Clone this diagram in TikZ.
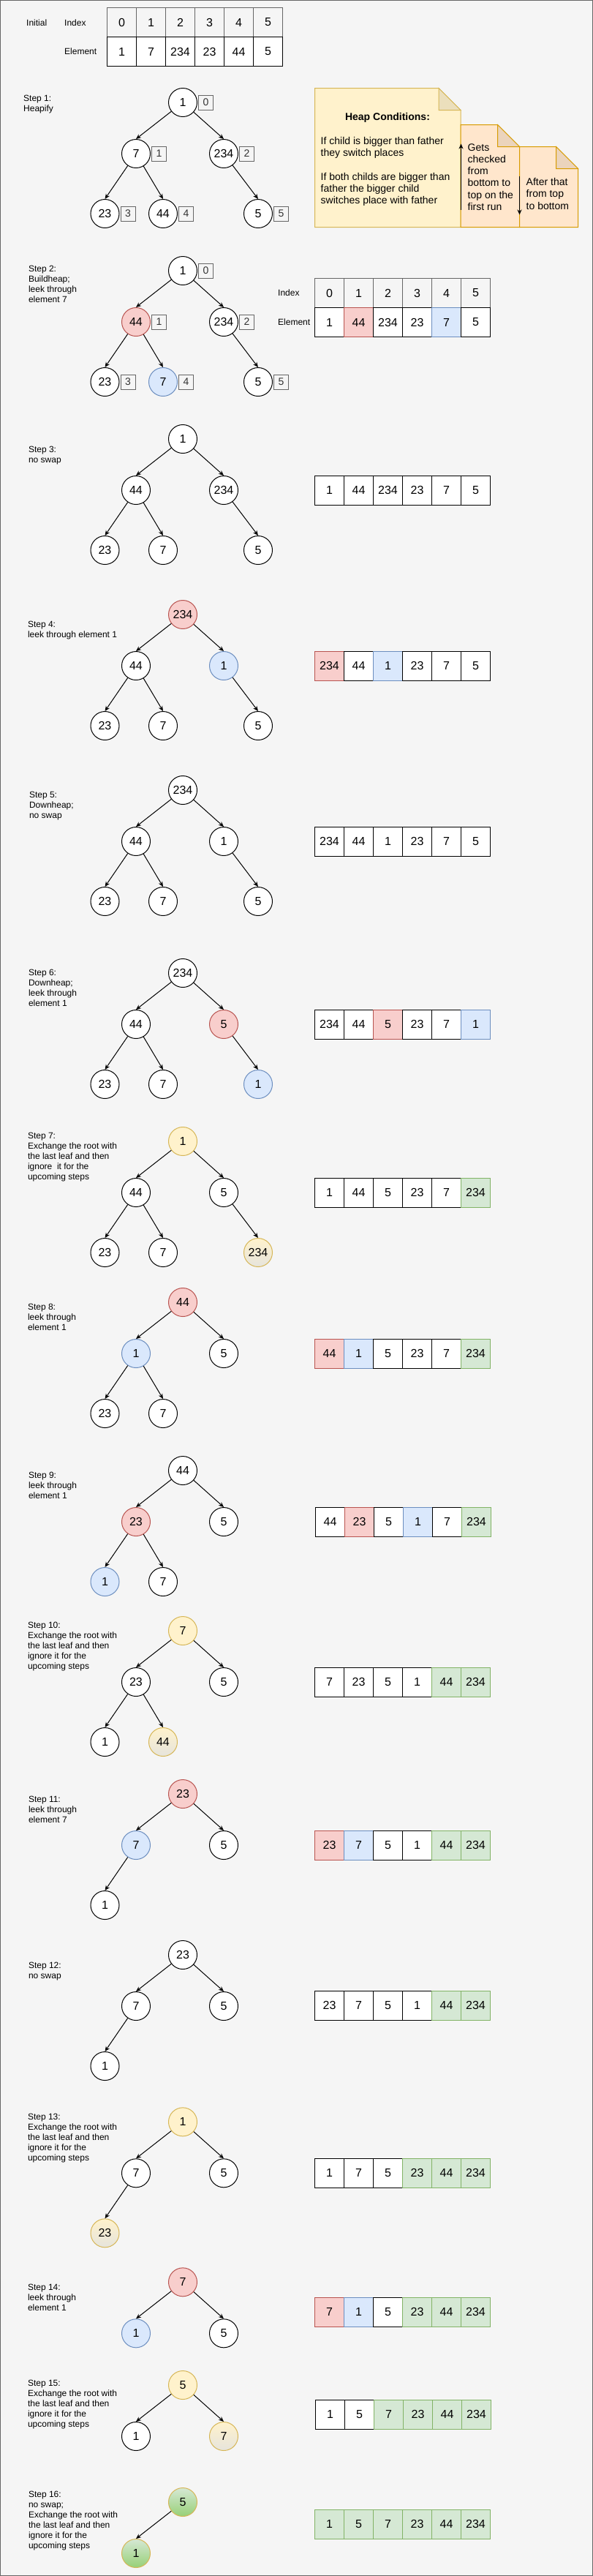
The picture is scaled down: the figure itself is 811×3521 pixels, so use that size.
\documentclass[tikz,border=0pt]{standalone}
\usepackage{fontspec}
\setmainfont{Liberation Sans}
\usepackage{tikz}
\usetikzlibrary{positioning,arrows.meta}
\definecolor{bgc}{HTML}{F5F5F5}
\definecolor{framec}{HTML}{666666}
\definecolor{redf}{HTML}{F8CECC}
\definecolor{reds}{HTML}{B85450}
\definecolor{bluef}{HTML}{DAE8FC}
\definecolor{blues}{HTML}{6C8EBF}
\definecolor{yellf}{HTML}{FFF2CC}
\definecolor{yells}{HTML}{D6B656}
\definecolor{greenf}{HTML}{D5E8D4}
\definecolor{greens}{HTML}{82B366}
\definecolor{greend}{HTML}{97D077}
\definecolor{swapb}{HTML}{E6E4DC}
\definecolor{orangef}{HTML}{FFE6CC}
\definecolor{oranges}{HTML}{D79B00}
\tikzset{
  hnode/.style={circle,draw,fill=white,line width=1pt,minimum size=39pt,inner sep=0pt,font=\fontsize{16}{19}\selectfont},
  cell/.style={draw,fill=white,line width=1pt,minimum size=40pt,inner sep=0pt,font=\fontsize{16}{19}\selectfont},
  ibox/.style={draw=framec,line width=1pt,minimum size=20pt,inner sep=0pt,text=black!80,font=\fontsize{14}{16}\selectfont},
  keep/.style={},
  idx/.style={fill=bgc,draw=framec},
  hot/.style={fill=redf,draw=reds},
  leak/.style={fill=bluef,draw=blues},
  newroot/.style={fill=yellf,draw=yells},
  moved/.style={draw=yells,top color=yellf,bottom color=swapb},
  fixed/.style={draw=yells,top color=greenf,bottom color=greend},
  sorted/.style={fill=greenf,draw=greens},
  hlink/.style={-{Stealth[length=7pt,width=6pt]},line width=1pt},
  lbl/.style={anchor=west,inner sep=0pt,font=\fontsize{12}{14}\selectfont},
  steplbl/.style={anchor=north west,align=left,inner sep=0pt,font=\fontsize{12}{14}\selectfont},
  notetxt/.style={anchor=north west,align=left,inner sep=0pt,font=\fontsize{14}{16.2}\selectfont},
  pr/.style={at={(250,0)}}, pa/.style={at={(186,70)}}, pb/.style={at={(306,70)}},
  pc/.style={at={(143.5,152)}}, pd/.style={at={(223,152)}}, pe/.style={at={(353,152)}}
}
\newcommand{\heap}[4]{%
  \begin{scope}[shift={(0,#2)}]
    \foreach \p/\val/\sty in {#3} \node[hnode,p\p,\sty] (#1\p) {\val};
    \foreach \u/\w in {#4} \draw[hlink] (#1\u) -- (#1\w.north);
  \end{scope}
}
\newcommand{\cellrow}[4]{%
  \foreach \val/\sty [count=\i from 0] in {#4}
    \node[cell,\sty] (#1-\i) at ({#2+20+40*\i},#3) {\val};
}
\newcommand{\steptext}[4]{\node[steplbl] (#1) at (#2,{#3-4.5}) {#4};}
\newcommand{\notebox}[6]{%
  \filldraw[fill=#5,draw=#6,line width=1pt] (#1,#2) -- ({#3-30},#2) -- (#3,{#2+30}) -- (#3,#4) -- (#1,#4) -- cycle;
  \filldraw[fill=#5!92!black,draw=#6,line width=1pt] ({#3-30},#2) -- ({#3-30},{#2+30}) -- (#3,{#2+30}) -- cycle;
}

\begin{document}
\begin{tikzpicture}[x=1pt,y=-1pt]
  \useasboundingbox (0,0) rectangle (811,3521);
  \filldraw[fill=bgc,draw=framec,line width=1pt] (0.5,0.5) rectangle (810.5,3520.5);
  % initial array
  \node[lbl] (initlbl) at (36,31) {Initial};
  \node[lbl] (idxlbl) at (88,31) {Index};
  \node[lbl] (ellbl) at (88,70.5) {Element};
  \cellrow{t0i}{146.5}{30.5}{0/idx,1/idx,2/idx,3/idx,4/idx,5/idx}
  \cellrow{t0e}{146.5}{70.5}{1/keep,7/keep,234/keep,23/keep,44/keep,5/keep}
  % step 1
  \steptext{s1t}{32}{134}{Step 1:\\Heapify}
  \heap{s1}{140}{r/1/keep,a/7/keep,b/234/keep,c/23/keep,d/44/keep,e/5/keep}{r/a,r/b,a/c,a/d,b/e}
  \foreach \p/\k in {r/0,a/1,b/2,c/3,d/4,e/5} \node[ibox,right=1pt of s1\p] (s1\p-i) {\k};
  % heap conditions notes
  \notebox{430.5}{120.5}{630}{310.5}{yellf}{yells}
  \notebox{630}{170.5}{710.5}{310.5}{orangef}{oranges}
  \notebox{710.5}{200.5}{790.5}{310.5}{orangef}{oranges}
  \node[font=\fontsize{14}{16}\selectfont\bfseries] (heapcond) at (530,160.7) {Heap Conditions:};
  \node[notetxt] (rules) at (438.5,187.3) {If child is bigger than father\\they switch places\\[16pt]If both childs are bigger than\\father the bigger child\\switches place with father};
  \node[notetxt] (upnote) at (639.5,196.3) {Gets\\checked\\from\\bottom to\\top on the\\first run};
  \node[notetxt] (downnote) at (719.5,243.3) {After that\\from top\\to bottom};
  \coordinate (upfrom) at (630.5,286.5);
  \coordinate (upto) at (630.5,196.5);
  \coordinate (downfrom) at (710.5,240.5);
  \coordinate (downto) at (710.5,293.5);
  \draw[hlink] (upfrom) -- (upto);
  \draw[hlink] (downfrom) -- (downto);
  % step 2
  \steptext{s2t}{38.8}{367.7}{Step 2:\\Buildheap;\\leek through\\element 7}
  \heap{s2}{370}{r/1/keep,a/44/hot,b/234/keep,c/23/keep,d/7/leak,e/5/keep}{r/a,r/b,a/c,a/d,b/e}
  \foreach \p/\k in {r/0,a/1,b/2,c/3,d/4,e/5} \node[ibox,right=1pt of s2\p] (s2\p-i) {\k};
  \node[lbl] (s2idx) at (380,400.7) {Index};
  \node[lbl] (s2el) at (380,440.5) {Element};
  \cellrow{s2i}{430.5}{400.5}{0/idx,1/idx,2/idx,3/idx,4/idx,5/idx}
  \cellrow{s2c}{430.5}{440.5}{1/keep,44/hot,234/keep,23/keep,7/leak,5/keep}
  % step 3
  \steptext{s3t}{38.8}{614}{Step 3:\\no swap}
  \heap{s3}{600}{r/1/keep,a/44/keep,b/234/keep,c/23/keep,d/7/keep,e/5/keep}{r/a,r/b,a/c,a/d,b/e}
  \cellrow{s3c}{430.5}{670}{1/keep,44/keep,234/keep,23/keep,7/keep,5/keep}
  % step 4
  \steptext{s4t}{37.8}{853.3}{Step 4:\\leek through element 1}
  \heap{s4}{840}{r/234/hot,a/44/keep,b/1/leak,c/23/keep,d/7/keep,e/5/keep}{r/a,r/b,a/c,a/d,b/e}
  \cellrow{s4c}{430.5}{910}{234/hot,44/keep,1/leak,23/keep,7/keep,5/keep}
  % step 5
  \steptext{s5t}{39.8}{1086.7}{Step 5:\\Downheap;\\no swap}
  \heap{s5}{1080}{r/234/keep,a/44/keep,b/1/keep,c/23/keep,d/7/keep,e/5/keep}{r/a,r/b,a/c,a/d,b/e}
  \cellrow{s5c}{430.5}{1150}{234/keep,44/keep,1/keep,23/keep,7/keep,5/keep}
  % step 6
  \steptext{s6t}{38.8}{1329.3}{Step 6:\\Downheap;\\leek through\\element 1}
  \heap{s6}{1330}{r/234/keep,a/44/keep,b/5/hot,c/23/keep,d/7/keep,e/1/leak}{r/a,r/b,a/c,a/d,b/e}
  \cellrow{s6c}{430.5}{1400}{234/keep,44/keep,5/hot,23/keep,7/keep,1/leak}
  % step 7
  \steptext{s7t}{37.8}{1552.3}{Step 7:\\Exchange the root with\\the last leaf and then\\ignore~ it for the\\upcoming steps}
  \heap{s7}{1560}{r/1/newroot,a/44/keep,b/5/keep,c/23/keep,d/7/keep,e/234/moved}{r/a,r/b,a/c,a/d,b/e}
  \cellrow{s7c}{430.5}{1630}{1/keep,44/keep,5/keep,23/keep,7/keep,234/sorted}
  % step 8
  \steptext{s8t}{37.8}{1786.7}{Step 8:\\leek through\\element 1}
  \heap{s8}{1780}{r/44/hot,a/1/leak,b/5/keep,c/23/keep,d/7/keep}{r/a,r/b,a/c,a/d}
  \cellrow{s8c}{430.5}{1850}{44/hot,1/leak,5/keep,23/keep,7/keep,234/sorted}
  % step 9
  \steptext{s9t}{38.8}{2016.7}{Step 9:\\leek through\\element 1}
  \heap{s9}{2010}{r/44/keep,a/23/hot,b/5/keep,c/1/leak,d/7/keep}{r/a,r/b,a/c,a/d}
  \cellrow{s9c}{431.5}{2080}{44/keep,23/hot,5/keep,1/leak,7/keep,234/sorted}
  % step 10
  \steptext{s10t}{37.8}{2221.7}{Step 10:\\Exchange the root with\\the last leaf and then\\ignore it for the\\upcoming steps}
  \heap{s10}{2229}{r/7/newroot,a/23/keep,b/5/keep,c/1/keep,d/44/moved}{r/a,r/b,a/c,a/d}
  \cellrow{s10c}{430.5}{2299}{7/keep,23/keep,5/keep,1/keep,44/sorted,234/sorted}
  % step 11
  \steptext{s11t}{38.8}{2459}{Step 11:\\leek through\\element 7}
  \heap{s11}{2452}{r/23/hot,a/7/leak,b/5/keep,c/1/keep}{r/a,r/b,a/c}
  \cellrow{s11c}{430.5}{2522}{23/hot,7/leak,5/keep,1/keep,44/sorted,234/sorted}
  % step 12
  \steptext{s12t}{38.8}{2686}{Step 12:\\no swap}
  \heap{s12}{2672}{r/23/keep,a/7/keep,b/5/keep,c/1/keep}{r/a,r/b,a/c}
  \cellrow{s12c}{430.5}{2741.3}{23/keep,7/keep,5/keep,1/keep,44/sorted,234/sorted}
  % step 13
  \steptext{s13t}{37.8}{2893.7}{Step 13:\\Exchange the root with\\the last leaf and then\\ignore it for the\\upcoming steps}
  \heap{s13}{2900.3}{r/1/newroot,a/7/keep,b/5/keep,c/23/moved}{r/a,r/b,a/c}
  \cellrow{s13c}{430.5}{2970}{1/keep,7/keep,5/keep,23/sorted,44/sorted,234/sorted}
  % step 14
  \steptext{s14t}{37.8}{3126.7}{Step 14:\\leek through\\element 1}
  \heap{s14}{3119.3}{r/7/hot,a/1/leak,b/5/keep}{r/a,r/b}
  \cellrow{s14c}{430.5}{3160.3}{7/hot,1/leak,5/keep,23/sorted,44/sorted,234/sorted}
  % step 15
  \steptext{s15t}{37.8}{3257.7}{Step 15:\\Exchange the root with\\the last leaf and then\\ignore it for the\\upcoming steps}
  \heap{s15}{3260}{r/5/newroot,a/1/keep,b/7/moved}{r/a,r/b}
  \cellrow{s15c}{431.5}{3300.3}{1/keep,5/keep,7/sorted,23/sorted,44/sorted,234/sorted}
  % step 16
  \steptext{s16t}{38.8}{3409.3}{Step 16:\\no swap;\\Exchange the root with\\the last leaf and then\\ignore it for the\\upcoming steps}
  \heap{s16}{3420}{r/5/fixed,a/1/fixed}{r/a}
  \cellrow{s16c}{430.5}{3450.3}{1/sorted,5/sorted,7/sorted,23/sorted,44/sorted,234/sorted}
\end{tikzpicture}
\end{document}
